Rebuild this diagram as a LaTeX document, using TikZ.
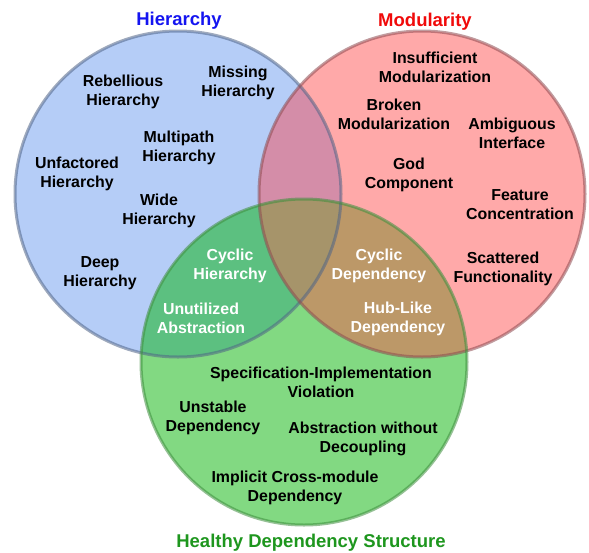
\documentclass[tikz,border=0pt]{standalone}
\usepackage{fontspec}
\setmainfont{Liberation Sans}
\definecolor{bOnly}{RGB}{181,205,247}
\definecolor{rOnly}{RGB}{255,169,169}
\definecolor{gOnly}{RGB}{130,217,130}
\definecolor{brCol}{RGB}{212,141,168}
\definecolor{bgCol}{RGB}{92,192,128}
\definecolor{rgCol}{RGB}{188,152,104}
\definecolor{allCol}{RGB}{166,148,106}
\definecolor{bLine}{RGB}{80,100,135}
\definecolor{rLine}{RGB}{142,74,80}
\definecolor{gLine}{RGB}{62,142,62}
\definecolor{tBlue}{RGB}{20,20,240}
\definecolor{tRed}{RGB}{240,10,10}
\definecolor{tGreen}{RGB}{30,150,30}
\tikzset{
  lbl/.style={align=center, inner sep=0pt, font=\bfseries\fontsize{15.9}{19}\selectfont, text=black},
  wlbl/.style={lbl, text=white},
  ttl/.style={inner sep=0pt, font=\bfseries\fontsize{18.5}{22}\selectfont},
  ring/.style={line width=3pt, draw opacity=0.55}
}
\begin{document}
\begin{tikzpicture}[x=1pt,y=-1pt]
\useasboundingbox (0,0) rectangle (589,552);
\coordinate (B) at (178,194);
\coordinate (R) at (422,194);
\coordinate (G) at (304,362);
\def\rad{163pt}
% base fills
\fill[bOnly] (B) circle[radius=\rad];
\fill[rOnly] (R) circle[radius=\rad];
\fill[gOnly] (G) circle[radius=\rad];
% pairwise overlaps
\begin{scope}\clip (B) circle[radius=\rad]; \fill[brCol] (R) circle[radius=\rad]; \end{scope}
\begin{scope}\clip (B) circle[radius=\rad]; \fill[bgCol] (G) circle[radius=\rad]; \end{scope}
\begin{scope}\clip (R) circle[radius=\rad]; \fill[rgCol] (G) circle[radius=\rad]; \end{scope}
\begin{scope}\clip (B) circle[radius=\rad]; \clip (R) circle[radius=\rad]; \fill[allCol] (G) circle[radius=\rad]; \end{scope}
% outlines
\draw[ring, bLine] (B) circle[radius=\rad];
\draw[ring, rLine] (R) circle[radius=\rad];
\draw[ring, gLine] (G) circle[radius=\rad];
% titles
\node[ttl, text=tBlue] (tH) at (179,20.5) {Hierarchy};
\node[ttl, text=tRed] (tM) at (425,21.5) {Modularity};
\node[ttl, text=tGreen] (tD) at (311,543) {Healthy Dependency Structure};
% hierarchy
\node[lbl] (rebel) at (123,91.5) {Rebellious\\Hierarchy};
\node[lbl] (miss) at (238,82.5) {Missing\\Hierarchy};
\node[lbl] (multi) at (179,147.5) {Multipath\\Hierarchy};
\node[lbl] (unfac) at (77,173.5) {Unfactored\\Hierarchy};
\node[lbl] (wide) at (159,210.5) {Wide\\Hierarchy};
\node[lbl] (deep) at (100,273.5) {Deep\\Hierarchy};
\node[wlbl] (cych) at (230,265.5) {Cyclic\\Hierarchy};
\node[wlbl] (unut) at (201,318.5) {Unutilized\\Abstraction};
% modularity
\node[lbl] (insuf) at (435,67.5) {Insufficient\\Modularization};
\node[lbl] (broken) at (394,114.5) {Broken\\Modularization};
\node[lbl] (ambig) at (512,133.5) {Ambiguous\\Interface};
\node[lbl] (god) at (409,174.5) {God\\Component};
\node[lbl] (feat) at (520,204.5) {Feature\\Concentration};
\node[lbl] (scat) at (503,268.5) {Scattered\\Functionality};
\node[wlbl] (cycd) at (379,265.5) {Cyclic\\Dependency};
\node[wlbl] (hub) at (398,318.5) {Hub-Like\\Dependency};
% dependency
\node[lbl] (spec) at (321,382.5) {Specification-Implementation\\Violation};
\node[lbl] (unst) at (213,417.5) {Unstable\\Dependency};
\node[lbl] (awd) at (363,438.5) {Abstraction without\\Decoupling};
\node[lbl] (impl) at (295,487.5) {Implicit Cross-module\\Dependency};
\end{tikzpicture}
\end{document}
